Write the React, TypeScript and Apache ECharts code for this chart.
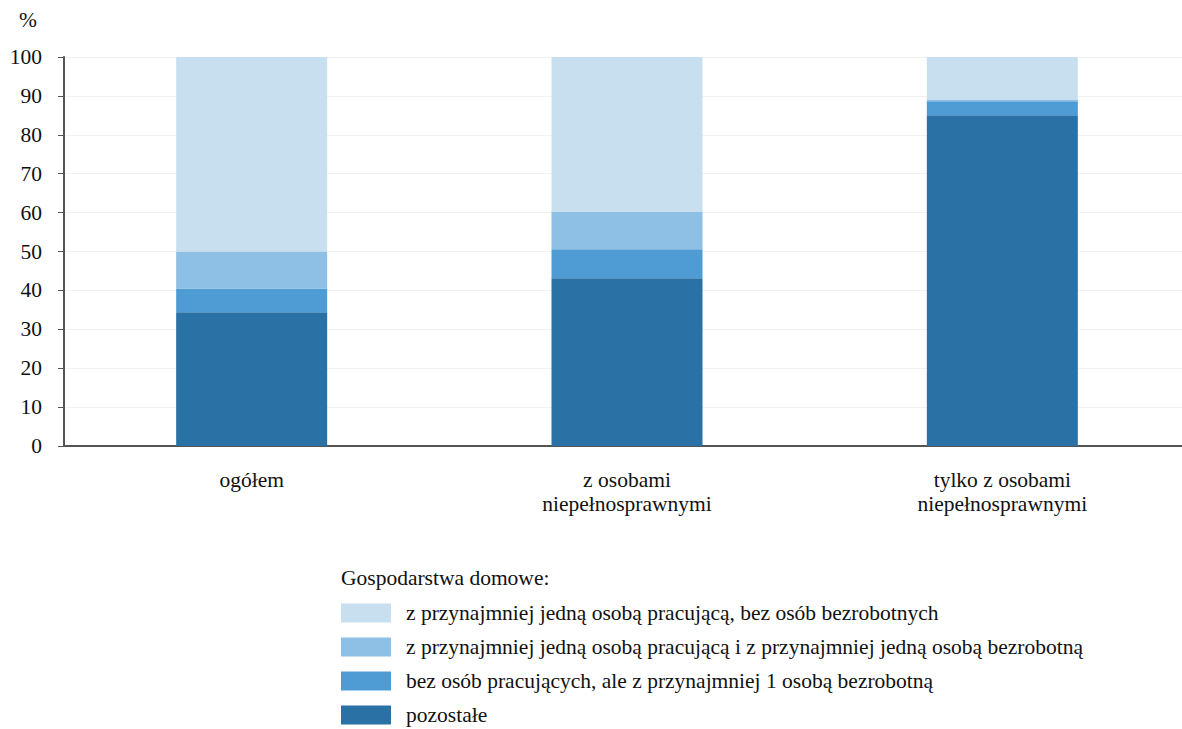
import React, { useEffect, useRef } from "react";
import * as echarts from "echarts";

const categories = ["ogółem", "z osobami\nniepełnosprawnymi", "tylko z osobami\nniepełnosprawnymi"];
const seriesNames = [
  "z przynajmniej jedną osobą pracującą, bez osób bezrobotnych",
  "z przynajmniej jedną osobą pracującą i z przynajmniej jedną osobą bezrobotną",
  "bez osób pracujących, ale z przynajmniej 1 osobą bezrobotną",
  "pozostałe",
];
const pozostale = [34.4, 43.1, 85.0];
const bezPracujacych = [6.1, 7.5, 3.6];
const pracujacaIBezrobotna = [9.5, 9.7, 0.5];
const pracujacaBezBezrobotnych = [50.0, 39.7, 10.9];
const colors = ["#c8dff0", "#8ebfe5", "#4f9bd4", "#2a71a5"];

const FONT = "Liberation Serif";
const FS = 21.5;

export default function App() {
  const ref = useRef<HTMLDivElement>(null);
  useEffect(() => {
    if (!ref.current) return;
    const chart = echarts.init(ref.current, undefined, { renderer: "svg" });
    const stackData = [
      { name: seriesNames[3], data: pozostale, color: colors[3] },
      { name: seriesNames[2], data: bezPracujacych, color: colors[2] },
      { name: seriesNames[1], data: pracujacaIBezrobotna, color: colors[1] },
      { name: seriesNames[0], data: pracujacaBezBezrobotnych, color: colors[0] },
    ];
    chart.setOption({
      animation: false,
      textStyle: { fontFamily: FONT },
      grid: { left: 64, right: 0, top: 57, bottom: 283, containLabel: false },
      graphic: [
        {
          type: "text",
          left: 19,
          top: 9,
          style: { text: "%", fontSize: FS, fontFamily: FONT, fill: "#111" },
        },
        {
          type: "text",
          left: 341,
          top: 567,
          style: { text: "Gospodarstwa domowe:", fontSize: FS, fontFamily: FONT, fill: "#111" },
        },
      ],
      legend: {
        orient: "vertical",
        left: 341,
        top: 602,
        padding: 0,
        itemWidth: 50,
        itemHeight: 19,
        itemGap: 12,
        icon: "rect",
        data: seriesNames,
        textStyle: { fontSize: FS, fontFamily: FONT, color: "#111", padding: [0, 0, 0, 10] },
      },
      xAxis: {
        type: "category",
        data: categories,
        axisLine: { lineStyle: { color: "#555", width: 2 } },
        axisTick: { show: false },
        axisLabel: { fontSize: FS, fontFamily: FONT, color: "#111", margin: 22, lineHeight: 24 },
      },
      yAxis: {
        type: "value",
        min: 0,
        max: 100,
        interval: 10,
        axisLine: { show: true, lineStyle: { color: "#555", width: 2 } },
        axisTick: { show: true, length: 6, lineStyle: { color: "#555" } },
        axisLabel: { fontSize: FS, fontFamily: FONT, color: "#111", margin: 22 },
        splitLine: { show: true, lineStyle: { color: "#f2f2f2", width: 1 } },
      },
      series: stackData.map((s) => ({
        type: "bar",
        name: s.name,
        stack: "total",
        data: s.data,
        barWidth: 151,
        itemStyle: { color: s.color },
      })),
    });
    return () => chart.dispose();
  }, []);
  return (
    <div
      ref={ref}
      style={{ position: "fixed", left: 0, top: 0, width: 1190, height: 729, background: "#fff" }}
    />
  );
}
